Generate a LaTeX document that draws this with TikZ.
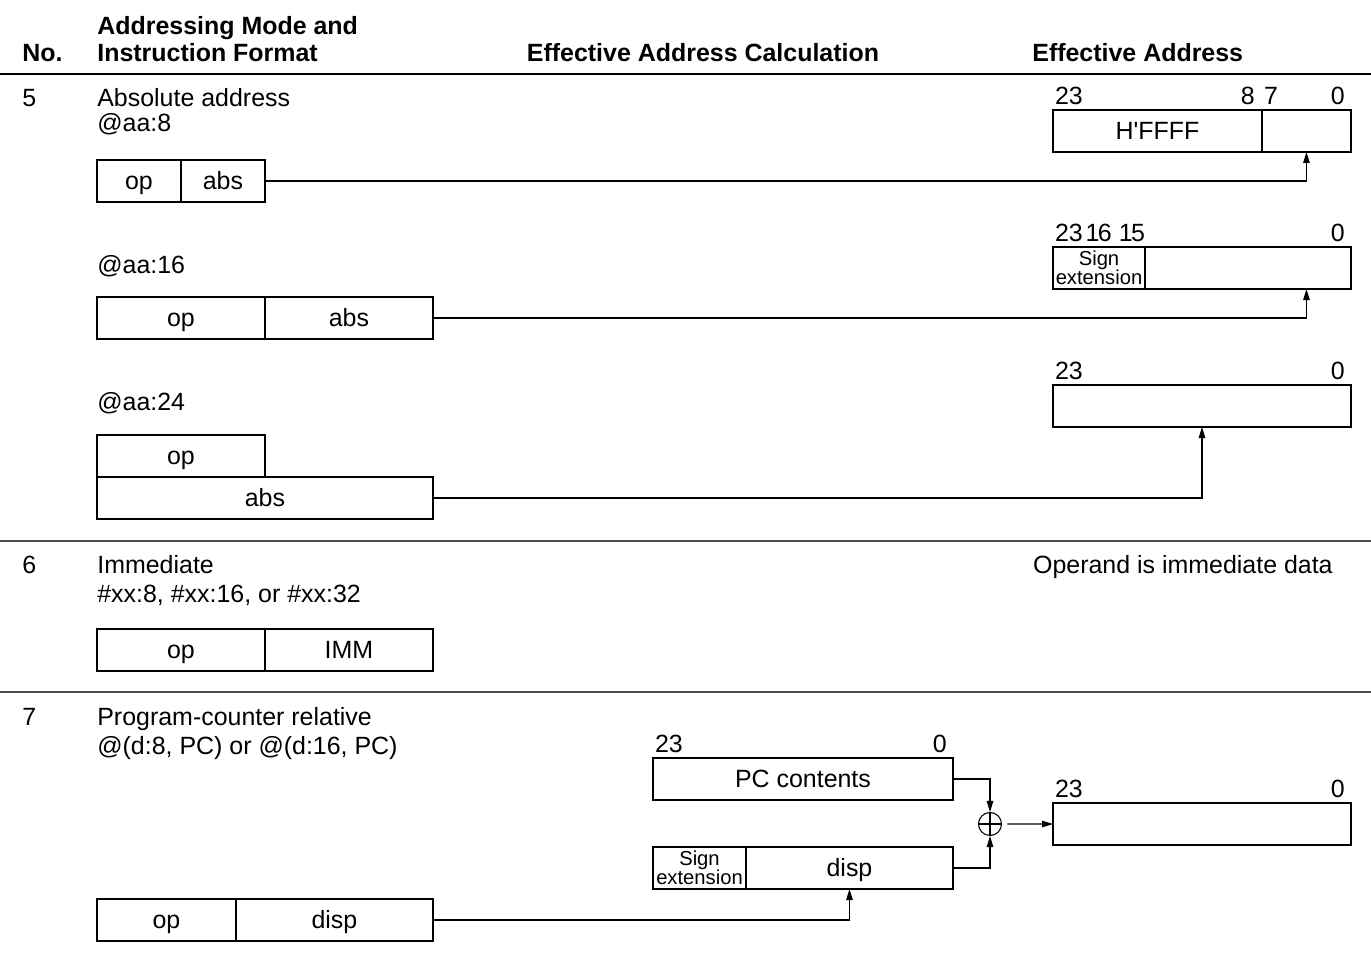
\documentclass[tikz,border=0pt]{standalone}
\usepackage{fontspec}
\setmainfont{Liberation Sans}
\usetikzlibrary{arrows.meta}

\tikzset{
  txt/.style={font=\fontsize{14.2}{14.2}\selectfont, inner sep=0pt, anchor=base west},
  hdr/.style={txt, font=\fontsize{14.2}{14.2}\selectfont\bfseries},
  fldbase/.style={draw, line width=0.8pt, minimum height=0.84cm, inner sep=0pt,
    outer sep=0pt, anchor=north west},
  fld/.style={fldbase, font=\fontsize{14.2}{14.2}\selectfont, text height=10pt, text depth=0pt},
  sgnx/.style={fldbase, align=center, font=\fontsize{11.5}{10.8}\selectfont},
  bitno/.style={font=\fontsize{14.2}{14.2}\selectfont, inner xsep=1pt, inner ysep=3pt},
  conn/.style={line width=0.6pt},
  rule/.style={line width=0.6pt, black!70}
}

\begin{document}
\begin{tikzpicture}[x=0.02cm, y=-0.02cm, >={Triangle[length=2.2mm, width=1.3mm]}]
  \useasboundingbox (0,0) rectangle (1371,961);

  % --- header ---
  \node[hdr] (hno) at (22,61) {No.};
  \node[hdr] (hmode) at (97,34) {Addressing Mode and};
  \node[hdr] (hfmt) at (97,61) {Instruction Format};
  \node[hdr, anchor=base] (hcalc) at (703,61) {Effective Address Calculation};
  \node[hdr] (hea) at (1032,61) {Effective Address};
  \draw[line width=1.2pt] (0,74) -- (1371,74);

  % --- 5: absolute address ---
  \node[txt] (n5) at (22,106) {5};
  \node[txt] (t5a) at (97,106) {Absolute address};
  \node[txt] (t5b) at (97,131) {@aa:8};

  \node[fld, minimum width=1.68cm] (op5a) at (97,160) {op};
  \node[fld, minimum width=1.68cm] (abs5a) at (op5a.north east) {abs};

  \node[fld, minimum width=4.18cm] (ffff) at (1053,110) {H\textquotesingle FFFF};
  \node[fld, minimum width=1.78cm] (low8) at (ffff.north east) {};
  \node[bitno, above right] (b23a) at (ffff.north west) {23};
  \node[bitno, above left, xshift=-0.1cm] (b8a) at (ffff.north east) {8};
  \node[bitno, above right] (b7a) at (low8.north west) {7};
  \node[bitno, above left, xshift=-0.08cm] (b0a) at (low8.north east) {0};
  \draw[conn, ->] (abs5a.east) -| (low8.south);

  \node[txt] (t5c) at (97,273) {@aa:16};
  \node[fld, minimum width=3.36cm] (op5b) at (97,297) {op};
  \node[fld, minimum width=3.36cm] (abs5b) at (op5b.north east) {abs};

  \node[sgnx, minimum width=1.84cm] (sgn16) at (1053,247) {Sign\\extension};
  \node[fld, minimum width=4.12cm] (low16) at (sgn16.north east) {};
  \node[bitno, above right] (b23b) at (sgn16.north west) {23};
  \node[bitno, above left, xshift=0.04cm] (b15b) at (sgn16.north east) {1\kern-1pt5};
  \node[bitno, anchor=south east, xshift=-0.06cm] (b16b) at (b15b.south west) {1\kern-1pt6};
  \node[bitno, above left, xshift=-0.08cm] (b0b) at (low16.north east) {0};
  \draw[conn, ->] (abs5b.east) -| (low8.south |- low16.south);

  \node[txt] (t5d) at (97,410) {@aa:24};
  \node[fld, minimum width=3.36cm] (op5c) at (97,435) {op};
  \node[fld, minimum width=6.72cm] (abs5c) at (op5c.south west) {abs};

  \node[fld, minimum width=5.96cm] (ea24) at (1053,385) {};
  \node[bitno, above right] (b23c) at (ea24.north west) {23};
  \node[bitno, above left, xshift=-0.08cm] (b0c) at (ea24.north east) {0};
  \draw[conn, ->] (abs5c.east) -| (ea24.south);

  \draw[rule] (0,541) -- (1371,541);

  % --- 6: immediate ---
  \node[txt] (n6) at (22,573) {6};
  \node[txt] (t6a) at (97,573) {Immediate};
  \node[txt] (t6b) at (97,602) {\#xx:8, \#xx:16, or \#xx:32};
  \node[txt, anchor=base east] (t6c) at (1333,573) {Operand is immediate data};
  \node[fld, minimum width=3.36cm] (op6) at (97,629) {op};
  \node[fld, minimum width=3.36cm] (imm6) at (op6.north east) {IMM};

  \draw[rule] (0,692) -- (1371,692);

  % --- 7: program-counter relative ---
  \node[txt] (n7) at (22,725) {7};
  \node[txt] (t7a) at (97,725) {Program-counter relative};
  \node[txt] (t7b) at (97,754) {@(d:8, PC) or @(d:16, PC)};

  \node[fld, minimum width=6cm] (pc) at (653,758) {PC contents};
  \node[bitno, above right] (b23d) at (pc.north west) {23};
  \node[bitno, above left, xshift=-0.08cm] (b0d) at (pc.north east) {0};

  \node[sgnx, minimum width=1.86cm] (sgn7) at (653,847) {Sign\\extension};
  \node[fld, minimum width=4.14cm] (dsp7) at (sgn7.north east) {disp};

  \node[draw, circle, line width=0.6pt, minimum size=0.46cm, inner sep=0pt] (sum) at (990,824) {};
  \draw[line width=0.6pt] (sum.north) -- (sum.south) (sum.west) -- (sum.east);

  \node[fld, minimum width=5.96cm] (ea7) at (1053,803) {};
  \node[bitno, above right] (b23e) at (ea7.north west) {23};
  \node[bitno, above left, xshift=-0.08cm] (b0e) at (ea7.north east) {0};

  \node[fld, minimum width=2.78cm] (op7) at (97,899) {op};
  \node[fld, minimum width=3.94cm] (disp7) at (op7.north east) {disp};

  \draw[conn, ->] (pc.east) -| (sum.north);
  \draw[conn, ->] (dsp7.east) -| (sum.south);
  \draw[conn, ->, shorten <=3pt] (sum.east) -- (ea7.west);
  \draw[conn, ->] (disp7.east) -| (dsp7.south);
\end{tikzpicture}
\end{document}
